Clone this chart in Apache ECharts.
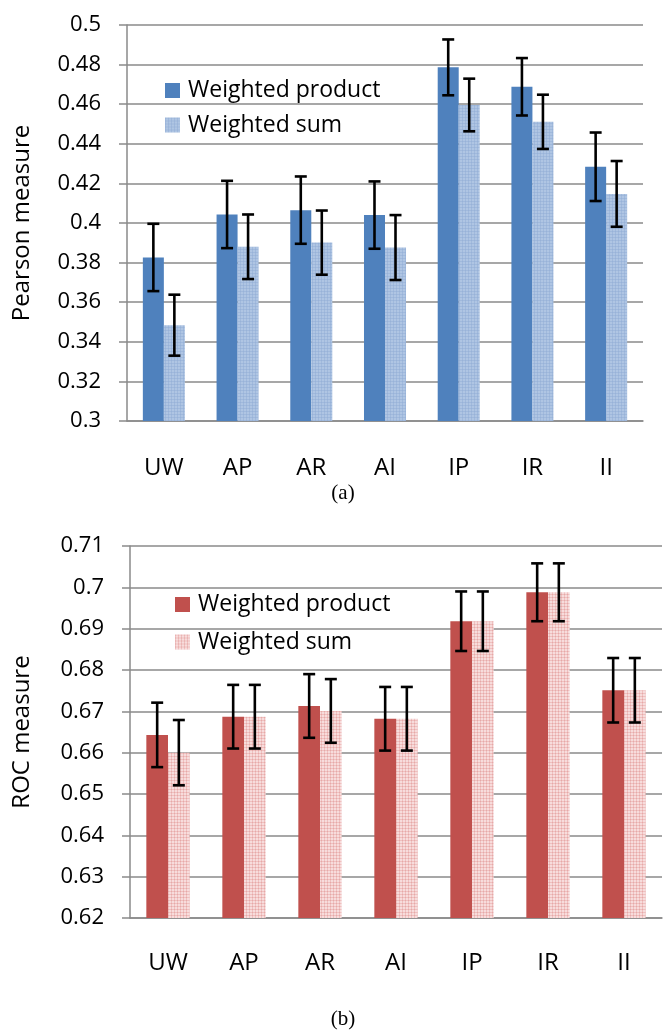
<!DOCTYPE html>
<html>
<head>
<meta charset="utf-8">
<script src="https://cdn.jsdelivr.net/npm/echarts@6/dist/echarts.min.js"></script>
<style>html,body{margin:0;padding:0;background:#fff;}#c{width:663px;height:1032px;}</style>
</head>
<body>
<div id="c"></div>
<script>
// ---- data ----
var categories = ['UW', 'AP', 'AR', 'AI', 'IP', 'IR', 'II'];
var seriesNames = ['Weighted product', 'Weighted sum'];

var pearsonProduct    = [0.3826, 0.4043, 0.4065, 0.4040, 0.4786, 0.4688, 0.4284];
var pearsonProductErr = [0.0170, 0.0170, 0.0170, 0.0170, 0.0141, 0.0145, 0.0173];
var pearsonSum        = [0.3484, 0.3880, 0.3901, 0.3876, 0.4596, 0.4511, 0.4147];
var pearsonSumErr     = [0.0154, 0.0163, 0.0162, 0.0164, 0.0133, 0.0137, 0.0166];

var rocProduct    = [0.6643, 0.6687, 0.6713, 0.6682, 0.6918, 0.6988, 0.6751];
var rocProductErr = [0.0078, 0.0077, 0.0077, 0.0077, 0.0072, 0.0070, 0.0078];
var rocSum        = [0.6600, 0.6687, 0.6701, 0.6682, 0.6918, 0.6988, 0.6751];
var rocSumErr     = [0.0079, 0.0077, 0.0077, 0.0077, 0.0072, 0.0070, 0.0078];

var pearsonAxis = {min: 0.3, max: 0.5, interval: 0.02, name: 'Pearson measure'};
var rocAxis     = {min: 0.62, max: 0.71, interval: 0.01, name: 'ROC measure'};
var panelLabels = ['(a)', '(b)'];

// ---- styles ----
function makePattern(bg, line, dot, n) {
  var cv = document.createElement('canvas');
  cv.width = n; cv.height = n;
  var ctx = cv.getContext('2d');
  ctx.fillStyle = bg; ctx.fillRect(0, 0, n, n);
  ctx.fillStyle = line;
  ctx.fillRect(0, 0, n, 1);
  ctx.fillRect(0, 0, 1, n);
  ctx.fillStyle = dot; ctx.fillRect(0, 0, 1, 1);
  return {image: cv, repeat: 'repeat'};
}
var blueDark = '#4F81BD';
var blueLight = makePattern('#AFC5E3', '#A0B9DC', '#98B2D8', 3);
var redDark = '#C0504D';
var redLight = makePattern('#F7DCDC', '#EFC0BF', '#E6A9A8', 3);

var FONT = 'Open Sans';
var gridColor = '#8A8A8A';
var BAR_W = 0.285;

function errSeries(xi, vals, errs, sign, name) {
  return {
    type: 'custom', name: name + ' err', xAxisIndex: xi, yAxisIndex: xi, z: 10,
    silent: true,
    data: vals.map(function (v, i) { return [i, v - errs[i], v + errs[i]]; }),
    renderItem: function (params, api) {
      var band = api.size([1, 0])[0];
      var lo = api.coord([api.value(0), api.value(1)]);
      var hi = api.coord([api.value(0), api.value(2)]);
      var x = lo[0] + sign * band * BAR_W / 2;
      var cap = 6;
      var st = {stroke: '#000', lineWidth: 2.6};
      return {type: 'group', children: [
        {type: 'line', shape: {x1: x, y1: lo[1], x2: x, y2: hi[1]}, style: st},
        {type: 'line', shape: {x1: x - cap, y1: lo[1], x2: x + cap, y2: lo[1]}, style: st},
        {type: 'line', shape: {x1: x - cap, y1: hi[1], x2: x + cap, y2: hi[1]}, style: st}
      ]};
    }
  };
}

function xAxisCfg(gi, margin) {
  return {
    type: 'category', gridIndex: gi, data: categories,
    axisLine: {lineStyle: {color: gridColor, width: 1.5}},
    axisTick: {length: 9, lineStyle: {color: gridColor, width: 1.5}},
    axisLabel: {color: '#000', fontFamily: FONT, fontSize: 24, margin: margin}
  };
}
function yAxisCfg(gi, ax, nameGap) {
  return {
    type: 'value', gridIndex: gi, min: ax.min, max: ax.max, interval: ax.interval,
    name: ax.name, nameLocation: 'middle', nameGap: nameGap,
    nameTextStyle: {color: '#000', fontFamily: FONT, fontSize: 24},
    axisLine: {show: true, lineStyle: {color: gridColor, width: 1.5}},
    axisTick: {show: true, length: 8, lineStyle: {color: gridColor, width: 1.5}},
    splitLine: {lineStyle: {color: gridColor, width: 1.5}},
    axisLabel: {color: '#000', fontFamily: FONT, fontSize: 22, margin: 26}
  };
}
function legendItem(name, color, left, top) {
  return {
    left: left, top: top, orient: 'vertical', selectedMode: false,
    itemWidth: 15, itemHeight: 15, padding: 0,
    data: [{name: name, icon: 'rect', itemStyle: {color: color, borderWidth: 0}}],
    textStyle: {color: '#000', fontFamily: FONT, fontSize: 23, lineHeight: 23, padding: [0, 0, 0, 3]}
  };
}
function panelLabel(text, y) {
  return {type: 'text', x: 343, y: y, style: {
    text: text, fontFamily: 'Liberation Serif', fontSize: 21, fill: '#000',
    align: 'center', verticalAlign: 'middle'}};
}

var option = {
  animation: false,
  backgroundColor: '#fff',
  grid: [
    {left: 127, right: 20, top: 25, height: 396},
    {left: 130, right: 1, top: 546, height: 372}
  ],
  xAxis: [xAxisCfg(0, 35), xAxisCfg(1, 33)],
  yAxis: [yAxisCfg(0, pearsonAxis, 93), yAxisCfg(1, rocAxis, 96)],
  legend: [
    legendItem(seriesNames[0], blueDark, 165, 79),
    legendItem(seriesNames[1], blueLight, 165, 113.5),
    legendItem(seriesNames[0], redDark, 175, 593),
    legendItem(seriesNames[1], redLight, 175, 630.5)
  ],
  graphic: [panelLabel(panelLabels[0], 493), panelLabel(panelLabels[1], 1019)],
  series: [
    {type: 'bar', name: seriesNames[0], xAxisIndex: 0, yAxisIndex: 0, data: pearsonProduct,
      barWidth: (BAR_W * 100) + '%', barGap: '0%', itemStyle: {color: blueDark}},
    {type: 'bar', name: seriesNames[1], xAxisIndex: 0, yAxisIndex: 0, data: pearsonSum,
      barWidth: (BAR_W * 100) + '%', barGap: '0%', itemStyle: {color: blueLight}},
    {type: 'bar', name: seriesNames[0], xAxisIndex: 1, yAxisIndex: 1, data: rocProduct,
      barWidth: (BAR_W * 100) + '%', barGap: '0%', itemStyle: {color: redDark}},
    {type: 'bar', name: seriesNames[1], xAxisIndex: 1, yAxisIndex: 1, data: rocSum,
      barWidth: (BAR_W * 100) + '%', barGap: '0%', itemStyle: {color: redLight}},
    errSeries(0, pearsonProduct, pearsonProductErr, -1, 'p1'),
    errSeries(0, pearsonSum, pearsonSumErr, 1, 'p2'),
    errSeries(1, rocProduct, rocProductErr, -1, 'r1'),
    errSeries(1, rocSum, rocSumErr, 1, 'r2')
  ]
};
var chart = echarts.init(document.getElementById('c'), null, {renderer: 'canvas'});
chart.setOption(option);
</script>
</body>
</html>
